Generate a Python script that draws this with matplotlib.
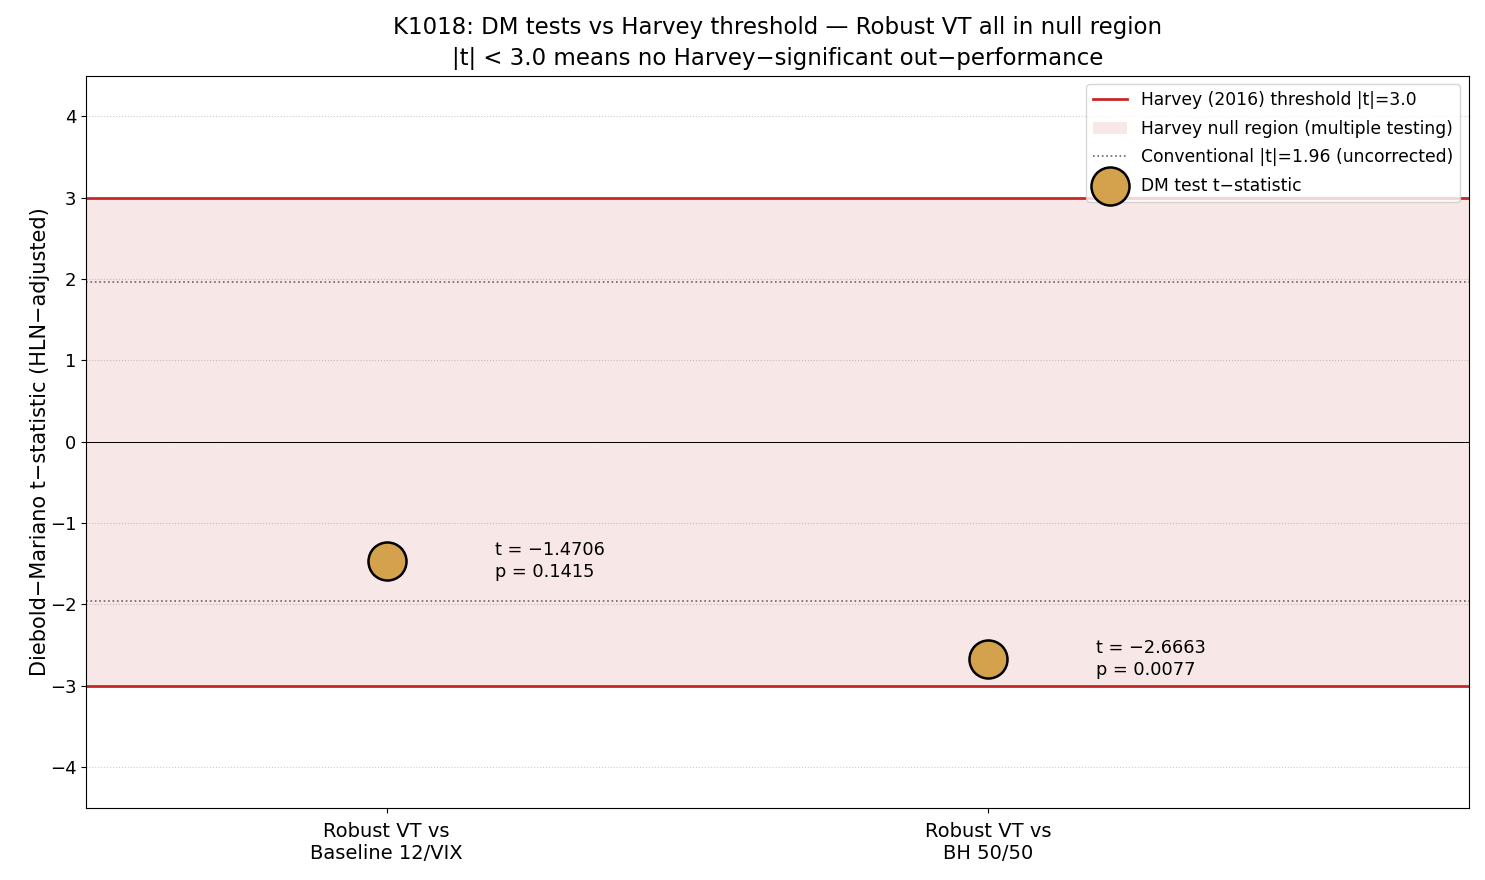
import numpy as np
import matplotlib
matplotlib.use("Agg")
import matplotlib.pyplot as plt

plt.rcParams['font.family'] = ['DejaVu Sans']

# DM test results
comparisons = ["Robust VT vs\nBaseline 12/VIX", "Robust VT vs\nBH 50/50"]
t_stats = [-1.4706, -2.6663]
p_values = [0.1415, 0.0077]
harvey_t = 3.0
conv_t = 1.96

fig, ax = plt.subplots(figsize=(14.85, 8.8), dpi=100)
x = np.arange(len(comparisons))

ax.axhspan(-harvey_t, harvey_t, color='#c62828', alpha=0.11, lw=0,
           label='Harvey null region (multiple testing)')
ax.axhline(harvey_t, color='#c62828', lw=2, label='Harvey (2016) threshold |t|=3.0')
ax.axhline(-harvey_t, color='#c62828', lw=2)
ax.axhline(conv_t, color='#666666', lw=1.2, ls=':', label='Conventional |t|=1.96 (uncorrected)')
ax.axhline(-conv_t, color='#666666', lw=1.2, ls=':')
ax.axhline(0, color='black', lw=0.7)

ax.scatter(x, t_stats, s=750, color='#d4a24c', edgecolor='black', linewidth=1.8,
           zorder=5, label='DM test t\u2212statistic')
for xi, t, p in zip(x, t_stats, p_values):
    ax.text(xi + 0.18, t, f"t = {t:.4f}\np = {p:.4f}".replace('-', '\u2212'),
            va='center', ha='left', fontsize=12.8, linespacing=1.3)

ax.set_xticks(x)
ax.set_xticklabels(comparisons, fontsize=14, linespacing=1.15)
ax.tick_params(axis='x', pad=7)
ax.tick_params(axis='y', labelsize=13)
ax.set_xlim(-0.5, 1.8)
ax.set_ylim(-4.5, 4.5)
ax.set_yticks(np.arange(-4, 5, 1))
ax.yaxis.grid(True, ls=':', color='#cccccc', lw=0.8)
ax.set_axisbelow(True)
ax.set_ylabel('Diebold\u2212Mariano t\u2212statistic (HLN\u2212adjusted)', fontsize=15, labelpad=0)
ax.set_title('K1018: DM tests vs Harvey threshold \u2014 Robust VT all in null region\n'
             '|t| < 3.0 means no Harvey\u2212significant out\u2212performance',
             fontsize=16.5, linespacing=1.4, pad=8)

h, l = ax.get_legend_handles_labels()
order = [1, 0, 2, 3]
ax.legend([h[i] for i in order], [l[i] for i in order], loc='upper right',
          fontsize=12.3, labelspacing=0.62)

fig.subplots_adjust(left=0.058, right=0.989, top=0.914, bottom=0.082)
fig.savefig('out.png', dpi=100)
